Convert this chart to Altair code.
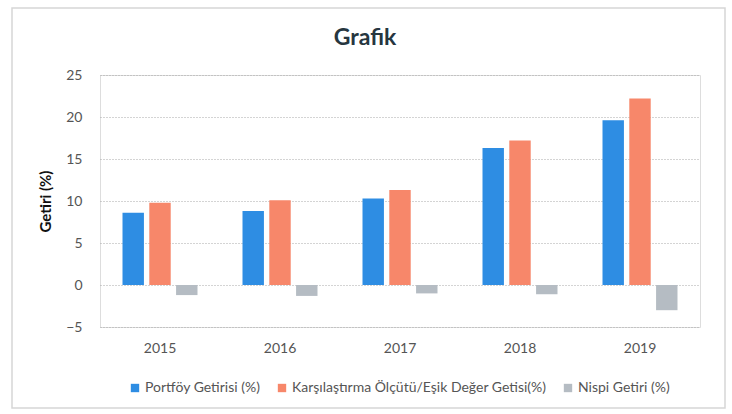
import altair as alt
import pandas as pd

years = ["2015", "2016", "2017", "2018", "2019"]
portfoy = [8.6, 8.8, 10.3, 16.3, 19.6]
karsilastirma = [9.8, 10.1, 11.3, 17.2, 22.2]
nispi = [-1.2, -1.3, -1.0, -1.1, -3.0]
series = ["Portföy Getirisi (%)", "Karşılaştırma Ölçütü/Eşik Değer Getisi(%)", "Nispi Getiri (%)"]
colors = ["#2E8DE3", "#F7876A", "#B5BCC3"]
y_ticks = [-5, 0, 5, 10, 15, 20, 25]
title_text = ["Grafik"]

rows = []
for i, yr in enumerate(years):
    for s, vals in zip(series, [portfoy, karsilastirma, nispi]):
        rows.append({"Yıl": yr, "Seri": s, "Değer": vals[i]})
df = pd.DataFrame(rows)

FONT = "Lato"

bars = alt.Chart(df).mark_bar().encode(
    x=alt.X("Yıl:N", sort=years,
            scale=alt.Scale(paddingInner=0.375, paddingOuter=0.1875),
            axis=alt.Axis(title=None, labelAngle=0, domain=False, ticks=False,
                          labelPadding=14, labelFontSize=14, labelColor="#555555",
                          labelFont=FONT, grid=False)),
    xOffset=alt.XOffset("Seri:N", sort=series,
                        scale=alt.Scale(paddingInner=0.2, paddingOuter=0)),
    y=alt.Y("Değer:Q",
            scale=alt.Scale(domain=[-5, 25], nice=False),
            axis=alt.Axis(title="Getiri (%)", values=y_ticks, domain=False, ticks=False,
                          labelPadding=18, labelFontSize=14, labelColor="#555555",
                          labelFont=FONT, titleFont=FONT, titleFontSize=15,
                          titleFontWeight="bold", titleColor="#111111", titlePadding=12,
                          grid=True, gridColor="#A8A8A8", gridDash=[1, 2], gridWidth=1)),
    color=alt.Color("Seri:N",
                    scale=alt.Scale(domain=series, range=colors),
                    legend=alt.Legend(title=None, orient="none", direction="horizontal",
                                      legendX=28, legendY=306, symbolType="square",
                                      symbolSize=70, labelFont=FONT, labelFontSize=14,
                                      labelColor="#555555", columnPadding=14,
                                      labelOffset=3, labelLimit=0)),
)

frame = alt.Chart(pd.DataFrame({"a": [0]})).mark_rect(
    fill=None, stroke="#D6D6D6", strokeWidth=1.5
).encode(
    x=alt.value(-88), x2=alt.value(625), y=alt.value(-67), y2=alt.value(333)
)

title = alt.Chart(pd.DataFrame({"t": title_text})).mark_text(
    font=FONT, fontSize=23, fontWeight="bold", color="#26363F",
    align="center", baseline="middle"
).encode(text="t:N", x=alt.value(265), y=alt.value(-37))

chart = alt.layer(frame, bars, title).properties(
    width=600, height=252,
    autosize=alt.AutoSizeParams(type="none"),
    padding={"left": 100, "top": 75, "right": 32, "bottom": 87},
).configure_view(stroke=None).configure(background="#FFFFFF")

chart.save("out.html", embed_options={"renderer": "svg", "actions": False})
